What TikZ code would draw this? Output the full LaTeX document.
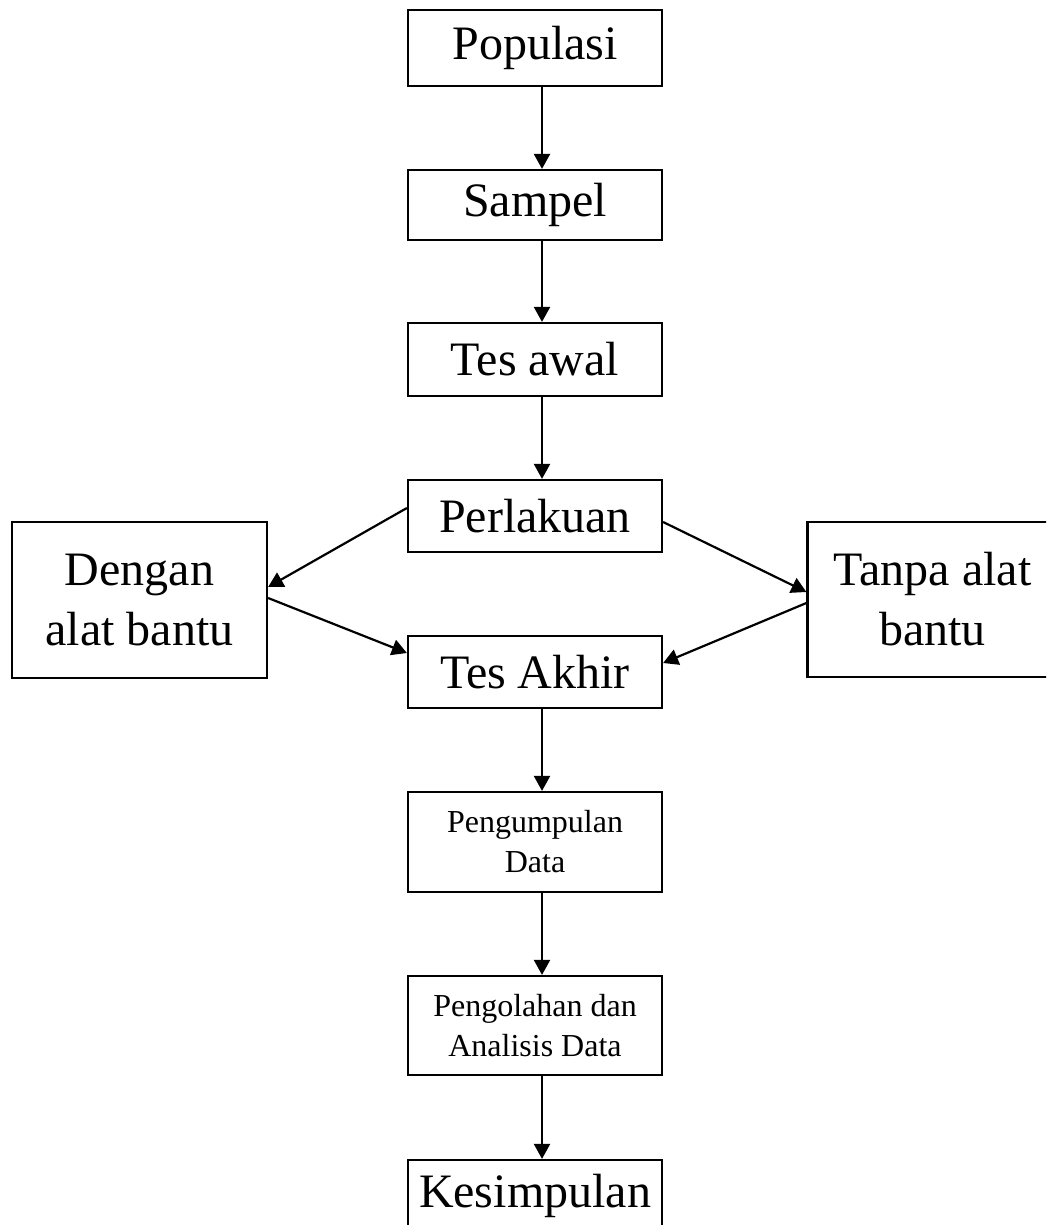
\documentclass[tikz,border=0pt]{standalone}
\usepackage{fontspec}
\setmainfont{Liberation Serif}
\usetikzlibrary{arrows.meta}

\begin{document}
\begin{tikzpicture}[x=0.5pt, y=-0.5pt,
    box/.style={draw, line width=1.1pt, inner sep=0pt, align=center,
      minimum width=127pt, font=\fontsize{24}{30}\selectfont},
    smallbox/.style={box, font=\fontsize{16}{20}\selectfont},
    flow/.style={-{Triangle[length=7.5pt,width=8pt]}, line width=1.1pt}]
  \clip (0,0) rectangle (1046,1225);
  \useasboundingbox (0,0) rectangle (1046,1225);
  % main column
  \node[box, minimum height=38pt]   (populasi)    at (535,48)     {Populasi};
  \node[box, minimum height=35pt]   (sampel)      at (535,205)    {Sampel};
  \node[box, minimum height=36.5pt] (tesawal)     at (535,359.5)  {Tes awal};
  \node[box, minimum height=36pt]   (perlakuan)   at (535,516)    {Perlakuan};
  \node[box, minimum height=36pt]   (tesakhir)    at (535,672)    {Tes Akhir};
  \node[smallbox, minimum height=50pt]   (pengumpulan) at (535,842)    {Pengumpulan\\Data};
  \node[smallbox, minimum height=49.5pt] (pengolahan)  at (535,1025.5) {Pengolahan dan\\Analisis Data};
  \node[box, minimum height=36pt]   (kesimpulan)  at (535,1196)   {Kesimpulan};
  % side boxes
  \node[box, minimum width=127.5pt, minimum height=78pt] (dengan) at (139.5,600) {Dengan\\alat bantu};
  \node[box, minimum width=125pt, minimum height=77.5pt] (tanpa)  at (932.5,599.5) {Tanpa alat\\bantu};

  \path[flow]
  ([xshift=3.5pt]populasi.south)    edge ([xshift=3.5pt]sampel.north)
  ([xshift=3.5pt]sampel.south)      edge ([xshift=3.5pt]tesawal.north)
  ([xshift=3.5pt]tesawal.south)     edge ([xshift=3.5pt]perlakuan.north)
  ([xshift=3.5pt]tesakhir.south)    edge ([xshift=3.5pt]pengumpulan.north)
  ([xshift=3.5pt]pengumpulan.south) edge ([xshift=3.5pt]pengolahan.north)
  ([xshift=3.5pt]pengolahan.south)  edge ([xshift=3.5pt]kesimpulan.north)
  ;
  \path[flow]
  ([yshift=4pt]perlakuan.west)  edge ([yshift=6.5pt]dengan.east)
  ([yshift=1pt]dengan.east)     edge ([yshift=9.5pt]tesakhir.west)
  ([yshift=-3pt]perlakuan.east) edge ([yshift=3.75pt]tanpa.west)
  ([yshift=-1.75pt]tanpa.west)  edge ([yshift=4.5pt]tesakhir.east)
  ;
\end{tikzpicture}
\end{document}
